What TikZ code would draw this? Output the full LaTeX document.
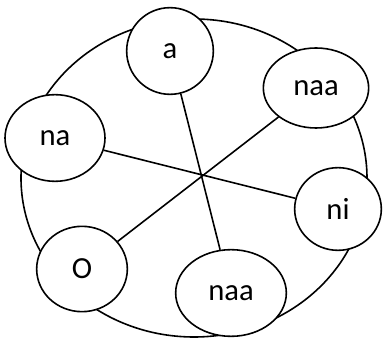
\documentclass[tikz,border=0pt]{standalone}
\usepackage{fontspec}
\setmainfont{Carlito}
\usetikzlibrary{shapes.geometric}

\tikzset{syl/.style={draw, ellipse, line width=1.2pt, fill=white, inner sep=0pt, font=\fontsize{23}{27}\selectfont}}

\begin{document}
\begin{tikzpicture}[x=0.75pt, y=-0.75pt]
			\useasboundingbox (0,0) rectangle (383,338);
			\draw[line width=1.2pt] (194,178) ellipse [x radius=173, y radius=159]; % outer ring
			% syllables
			\node[syl, minimum width=65pt, minimum height=65pt] (a) at (170,51) {a};
			\node[syl, minimum width=79pt, minimum height=60pt] (naaT) at (316,88) {naa};
			\node[syl, minimum width=75pt, minimum height=65pt] (na) at (55,138) {na};
			\node[syl, minimum width=65pt, minimum height=62pt] (ni) at (338,209) {ni};
			\node[syl, minimum width=68pt, minimum height=64pt] (O) at (82,269) {O};
			\node[syl, minimum width=83pt, minimum height=65pt] (naaB) at (231,293) {naa};
			% spokes
			\draw[line width=1.2pt] (a) -- (naaB);
			\draw[line width=1.2pt] (naaT) -- (O);
			\draw[line width=1.2pt] (na) -- (ni);
\end{tikzpicture}
\end{document}
